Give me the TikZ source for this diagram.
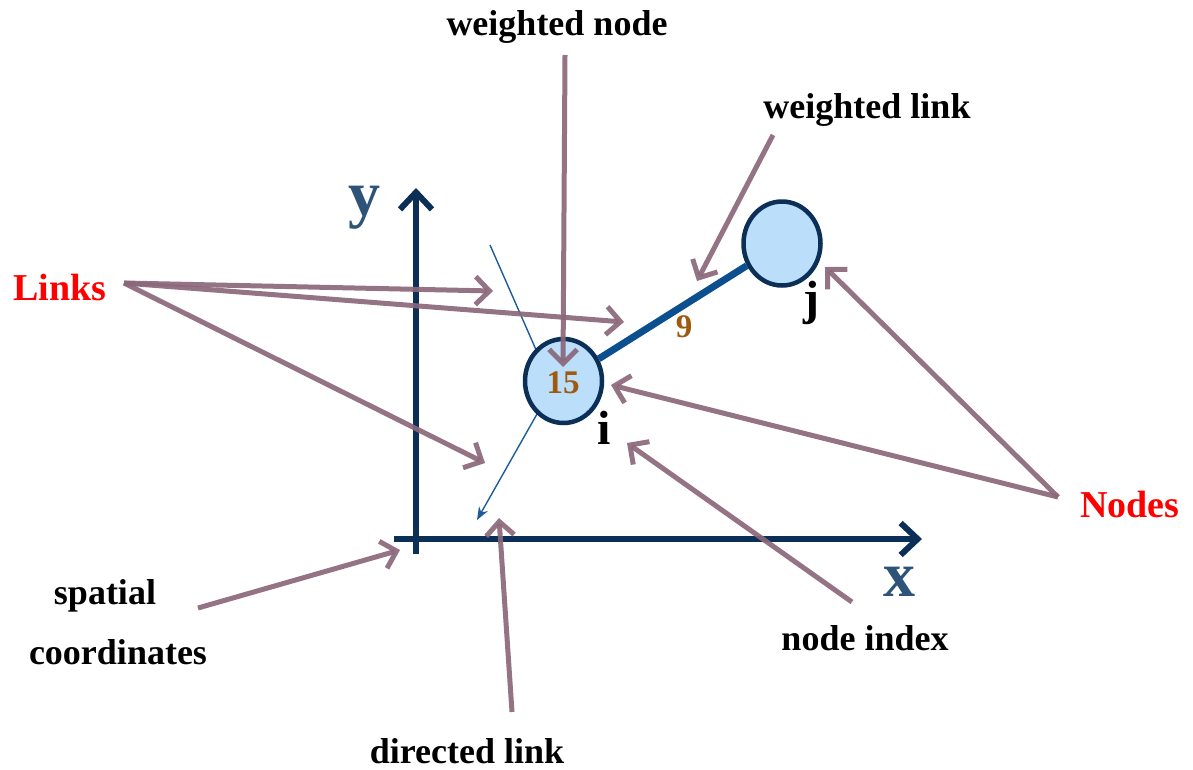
\documentclass[tikz,border=0pt]{standalone}
\usepackage{fontspec}
\setmainfont{Liberation Serif}[BoldFont={Liberation Serif Bold}]
\usetikzlibrary{arrows.meta,shapes.geometric}
\definecolor{mauve}{HTML}{8A6779}
\definecolor{axisblue}{HTML}{0B2F57}
\definecolor{linkblue}{HTML}{0B4F8F}
\definecolor{thinblue}{HTML}{1D5C9C}
\definecolor{nodefill}{HTML}{BBDEFA}
\definecolor{axlabel}{HTML}{2E5379}
\definecolor{wbrown}{HTML}{9E5A0E}
\definecolor{lred}{HTML}{FF0000}
\tikzset{
  lbl/.style={font=\fontsize{36}{40}\selectfont\bfseries, text=black, inner sep=0pt},
  redlbl/.style={font=\fontsize{38}{42}\selectfont\bfseries, text=lred, inner sep=0pt},
  axislbl/.style={font=\fontsize{64}{70}\selectfont\bfseries, text=axlabel, inner sep=0pt},
  idxlbl/.style={font=\fontsize{48}{50}\selectfont\bfseries, text=black, inner sep=0pt},
  wlbl/.style={font=\fontsize{33}{36}\selectfont\bfseries, text=wbrown, inner sep=0pt},
  netnode/.style={ellipse, draw=axisblue, line width=4.5pt, fill=nodefill, minimum width=77pt, minimum height=84pt, inner sep=0pt},
  axis/.style={draw=axisblue, line width=6pt, -{Straight Barb[length=17pt,width=32pt]}},
  pointer/.style={draw=mauve, line width=5pt, draw opacity=0.92, -{Straight Barb[length=14pt,width=28pt]}},
  weightlink/.style={draw=linkblue, line width=7pt},
  thinlink/.style={draw=thinblue, line width=1.4pt},
}
\begin{document}
\begin{tikzpicture}[x=1pt,y=-1pt]
\useasboundingbox (0,0) rectangle (1193,769);
% axes
\coordinate (ybot) at (416,554);
\coordinate (ytop) at (416,188);
\coordinate (xleft) at (394,539);
\coordinate (xright) at (922,539);
\draw[axis] (ybot) -- (ytop);
\draw[axis] (xleft) -- (xright);
% thin directed link
\coordinate (tstart) at (490,245);
\coordinate (tin) at (537,352);
\coordinate (tout) at (537,414);
\coordinate (tend) at (477,520);
\draw[thinlink] (tstart) -- (tin);
\draw[thinlink, -{Stealth[length=13pt,width=10pt]}] (tout) -- (tend);
% network nodes
\node[netnode] (i) at (563.5,381) {};
\node[netnode] (j) at (782,243.5) {};
\draw[weightlink] (i) -- (j);
\node[wlbl] (w15) at (563,383) {15};
\node[wlbl] (w9) at (684,327) {9};
% labels
\node[lbl] (wnode) at (557,27) {weighted node};
\node[lbl] (wlink) at (867,110) {weighted link};
\node[axislbl] (ylab) at (364,208) {y};
\node[axislbl] (xlab) at (899,582) {x};
\node[redlbl] (links) at (60,287) {Links};
\node[redlbl] (nodes) at (1130,504) {Nodes};
\node[lbl] (spatial) at (105,596) {spatial};
\node[lbl] (coords) at (118,652) {coordinates};
\node[lbl] (nidx) at (865,638) {node index};
\node[lbl] (dlink) at (467,751) {directed link};
\node[idxlbl] (ilab) at (604,428) {i};
\node[idxlbl] (jlab) at (811,303) {j};
% pointer arrows
\coordinate (wnS) at (565,55);
\coordinate (wnT) at (563,367);
\coordinate (wlS) at (773,135);
\coordinate (wlT) at (697,281);
\coordinate (lkS) at (124,283);
\coordinate (lkT1) at (493,291);
\coordinate (lkT2) at (624,322);
\coordinate (lkT3) at (485,463);
\coordinate (ndS) at (1058,497);
\coordinate (ndT1) at (825,267);
\coordinate (ndT2) at (611,385);
\coordinate (niS) at (852,602);
\coordinate (niT) at (627,443);
\coordinate (scS) at (198,608);
\coordinate (scT) at (400,550);
\coordinate (dlS) at (512,712);
\coordinate (dlT) at (499,518);
\draw[pointer] (wnS) -- (wnT);
\draw[pointer] (wlS) -- (wlT);
\draw[pointer] (lkS) -- (lkT1);
\draw[pointer] (lkS) -- (lkT2);
\draw[pointer] (lkS) -- (lkT3);
\draw[pointer] (ndS) -- (ndT1);
\draw[pointer] (ndS) -- (ndT2);
\draw[pointer] (niS) -- (niT);
\draw[pointer] (scS) -- (scT);
\draw[pointer] (dlS) -- (dlT);
\end{tikzpicture}
\end{document}
